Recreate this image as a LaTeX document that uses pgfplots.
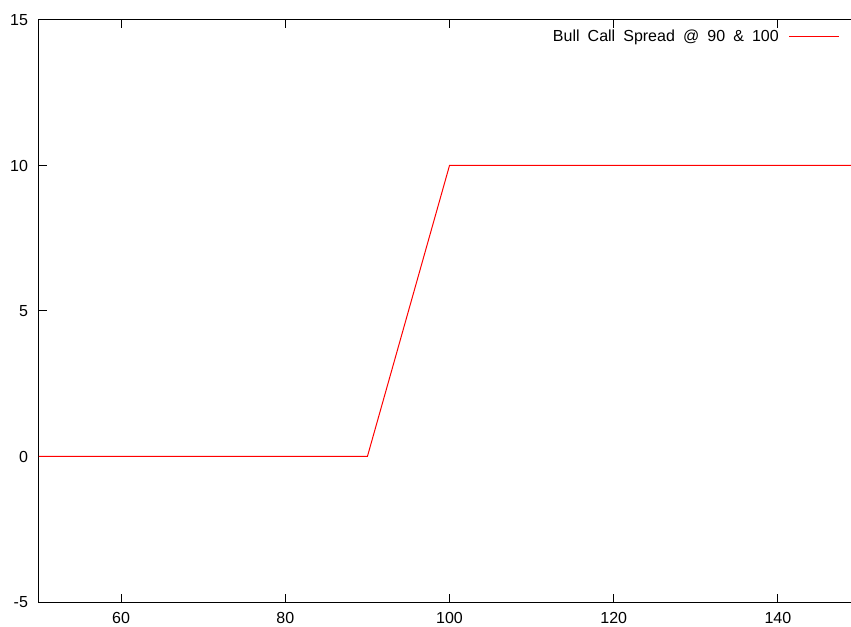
\documentclass[border=0pt]{standalone}
\usepackage{fontspec}
\setmainfont{Liberation Sans}
\usepackage{pgfplots}
\pgfplotsset{compat=1.18}
\begin{document}
\fontsize{16bp}{19bp}\selectfont
\begin{tikzpicture}
\begin{scope}
\clip (-39bp,-25bp) rectangle (812bp,602bp);
\begin{axis}[
  at={(0,0)}, anchor=south west,
  scale only axis, width=821bp, height=582bp,
  xmin=50, xmax=150, ymin=-5, ymax=15,
  xtick={60,80,...,140}, ytick={-5,0,...,15},
  tick align=inside, major tick length=8bp,
  axis line style={line width=1bp, black},
  tick style={line width=1bp, black},
  /pgf/number format/assume math mode=true,
  ticklabel style={font=\fontsize{16bp}{19bp}\selectfont},
  xticklabel style={yshift=-5bp},
  yticklabel style={xshift=-5.5bp},
  legend style={draw=none, fill=none, at={(0.9756,0.9708)}, anchor=east, inner sep=0pt,
    font=\fontsize{16bp}{19bp}\selectfont,
    /tikz/every odd column/.append style={column sep=8bp}},
  legend plot pos=right,
  legend cell align=right,
  legend image code/.code={\draw[red, line width=1bp] (0bp,0bp) -- (50bp,0bp);},
]
\addplot[red, line width=1bp] coordinates {(50,0) (90,0) (100,10) (150,10)};
\addlegendentry{\spaceskip=8.1bp Bull Call Spread @ 90 \& 100}
\end{axis}
\end{scope}
\pgfresetboundingbox
\useasboundingbox (-39bp,-25bp) rectangle (812bp,602bp);
\end{tikzpicture}
\end{document}
